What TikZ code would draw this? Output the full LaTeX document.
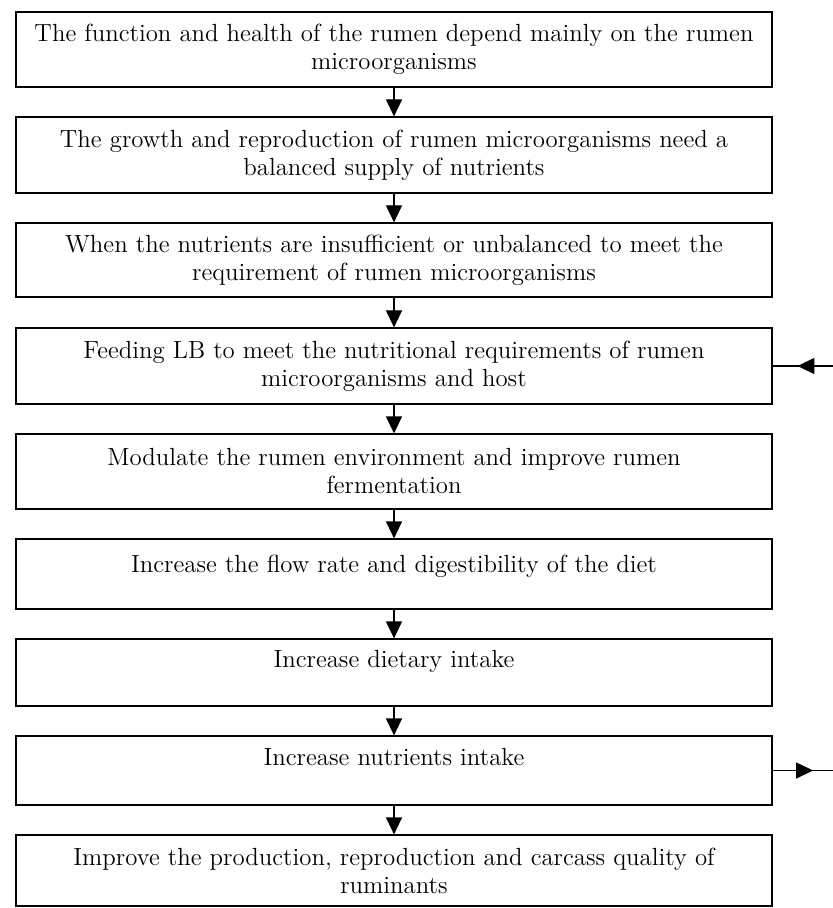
\documentclass[tikz,border=0pt]{standalone}
\usetikzlibrary{arrows.meta,decorations.markings}
\begin{document}
\begin{tikzpicture}[x=0.5pt, y=-0.5pt, line width=0.6pt,
  every node/.style={font=\fontsize{12.4}{14}\selectfont},
  bx/.style={draw, align=center, minimum width=378pt, inner sep=0pt},
  dn/.style={-{Triangle[length=8.5pt,width=8pt]}},
  midtip/.style={postaction={decorate, decoration={markings,
    mark=at position #1 with {\arrow{Triangle[length=8.5pt,width=8pt]}}}}}]
  \useasboundingbox (0,0) rectangle (833,908);
  \node[bx, minimum height=37.5pt] (rumen) at (394,49.5) {The function and health of the rumen depend mainly on the rumen\\microorganisms};
  \node[bx, minimum height=38pt] (growth) at (394,155) {The growth and reproduction of rumen microorganisms need a\\balanced supply of nutrients};
  \node[bx, minimum height=37pt] (lack) at (394,260) {When the nutrients are insufficient or unbalanced to meet the\\requirement of rumen microorganisms};
  \node[bx, minimum height=38pt] (feed) at (394,366) {Feeding LB to meet the nutritional requirements of rumen\\microorganisms and host};
  \node[bx, minimum height=37.5pt] (modul) at (394,471.5) {Modulate the rumen environment and improve rumen\\fermentation};
  \node[bx, minimum height=35pt] (flow) at (394,574) {Increase the flow rate and digestibility of the diet\\[-4pt]\mbox{}};
  \node[bx, minimum height=33.5pt] (intake) at (394,672.5) {Increase dietary intake\\\mbox{}};
  \node[bx, minimum height=34.5pt] (nutr) at (394,770.5) {Increase nutrients intake\\\mbox{}};
  \node[bx, minimum height=35.5pt] (improve) at (394,870.5) {Improve the production, reproduction and carcass quality of\\ruminants};
  \coordinate (fdin) at (833,366);
  \coordinate (ntout) at (833,770.5);
  \draw[dn] (rumen) -- (growth); \draw[dn] (growth) -- (lack); \draw[dn] (lack) -- (feed);
  \draw[dn] (feed) -- (modul); \draw[dn] (modul) -- (flow); \draw[dn] (flow) -- (intake);
  \draw[dn] (intake) -- (nutr); \draw[dn] (nutr) -- (improve);
  \draw[midtip=0.59] (fdin) -- (feed.east);
  \draw[midtip=0.67] (nutr.east) -- (ntout);
\end{tikzpicture}
\end{document}
